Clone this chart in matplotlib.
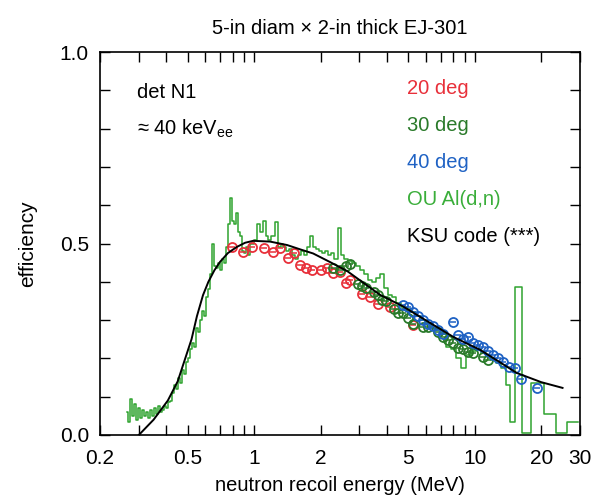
import matplotlib
matplotlib.use("Agg")
import matplotlib.pyplot as plt
import numpy as np

plt.rcParams['font.family'] = ['Liberation Sans', 'DejaVu Sans']

# ---- data ----
# KSU code (black curve)
ksu_E = [0.30, 0.35, 0.406, 0.45, 0.52, 0.55, 0.586, 0.62, 0.66, 0.70, 0.76, 0.834, 0.91,
         0.99, 1.18, 1.41, 1.61, 1.85, 2.2, 2.64, 3.72, 4.72, 6.3, 8.0, 10.6, 13.0, 15.5,
         20.0, 25.0]
ksu_eff = [0.0, 0.04, 0.09, 0.14, 0.25, 0.31, 0.365, 0.40, 0.43, 0.452, 0.475, 0.491, 0.502,
           0.507, 0.505, 0.496, 0.485, 0.474, 0.452, 0.428, 0.366, 0.336, 0.292, 0.256,
           0.222, 0.19, 0.162, 0.138, 0.123]

# OU Al(d,n) histogram (bin centres, efficiency)
ou_E = [0.265, 0.271, 0.276, 0.282, 0.288, 0.294, 0.300, 0.307, 0.313, 0.320, 0.327, 0.334,
        0.341, 0.348, 0.355, 0.363, 0.370, 0.378, 0.386, 0.394, 0.402, 0.411, 0.420, 0.428,
        0.438, 0.447, 0.456, 0.466, 0.476, 0.486, 0.496, 0.506, 0.517, 0.528, 0.539, 0.550,
        0.562, 0.574, 0.586, 0.598, 0.611, 0.624, 0.637, 0.650, 0.664, 0.678, 0.692, 0.707,
        0.722, 0.737, 0.753, 0.769, 0.785, 0.801, 0.819, 0.836, 0.853, 0.871, 0.890, 0.909,
        0.928, 0.947,
        0.977, 1.009, 1.041, 1.074, 1.108, 1.143, 1.179, 1.217, 1.256, 1.296, 1.337, 1.379,
        1.423, 1.468, 1.515, 1.563, 1.613, 1.664, 1.717, 1.772, 1.828, 1.887, 1.946, 2.008,
        2.072, 2.138, 2.206, 2.276, 2.349,
        2.448, 2.526, 2.607, 2.718, 2.834, 2.955, 3.081, 3.212, 3.349, 3.492, 3.641, 3.796,
        3.959, 4.128, 4.303, 4.487,
        4.727, 4.980, 5.248, 5.528, 5.825, 6.138, 6.465, 6.813, 7.176, 7.562, 7.967, 8.394,
        8.844, 9.319, 9.817, 10.34, 10.90, 11.48, 12.10, 12.74, 13.43,
        14.14, 14.75, 15.70, 16.89, 19.14, 21.92, 24.86, 27.58, 29.38]
ou_eff = [0.06, 0.035, 0.095, 0.05, 0.08, 0.04, 0.07, 0.045, 0.065, 0.05, 0.06, 0.045,
          0.065, 0.05, 0.07, 0.055, 0.075, 0.06, 0.065, 0.075, 0.07, 0.085, 0.09, 0.11,
          0.13, 0.12, 0.15, 0.135, 0.17, 0.16, 0.19, 0.20, 0.225, 0.24, 0.23, 0.28,
          0.27, 0.30, 0.325, 0.31, 0.36, 0.38, 0.42, 0.50, 0.44, 0.435, 0.45, 0.43,
          0.46, 0.45, 0.49, 0.55, 0.62, 0.56, 0.55, 0.58, 0.53, 0.52, 0.48, 0.475,
          0.49, 0.47,
          0.50, 0.51, 0.55, 0.53, 0.56, 0.52, 0.51, 0.52, 0.556, 0.49, 0.50, 0.49,
          0.48, 0.485, 0.47, 0.46, 0.47, 0.48, 0.47, 0.49, 0.52, 0.49, 0.485, 0.48,
          0.475, 0.48, 0.47, 0.475, 0.46,
          0.54, 0.47, 0.46, 0.455, 0.45, 0.44, 0.43, 0.42, 0.405, 0.40, 0.41, 0.42,
          0.385, 0.365, 0.36, 0.345,
          0.335, 0.33, 0.32, 0.31, 0.30, 0.29, 0.28, 0.275, 0.265, 0.23, 0.225, 0.20,
          0.175, 0.21, 0.22, 0.225, 0.215, 0.205, 0.195, 0.188, 0.175,
          0.13, 0.035, 0.386, 0.005, 0.135, 0.055, 0.005, 0.035, 0.035]

# 20 deg (red)
d20_E = [0.793, 0.890, 0.977, 1.108, 1.217, 1.31, 1.423, 1.515, 1.613, 1.717, 1.828,
         2.008, 2.138, 2.276, 2.448, 2.607, 2.718, 3.081, 3.349, 3.641, 4.128, 5.248]
d20_eff = [0.49, 0.478, 0.49, 0.488, 0.478, 0.488, 0.462, 0.475, 0.444, 0.436, 0.43,
           0.432, 0.436, 0.423, 0.426, 0.397, 0.405, 0.368, 0.36, 0.342, 0.334, 0.287]

# 30 deg (dark green)
d30_E = [2.276, 2.448, 2.607, 2.718, 2.955, 3.081, 3.212, 3.492, 3.641, 3.796, 3.959,
         4.303, 4.487, 4.727, 4.980, 5.248, 5.825, 6.138, 6.813, 7.176, 7.562, 7.967,
         8.394, 8.844, 9.319, 9.817, 10.90, 11.48]
d30_eff = [0.436, 0.43, 0.44, 0.447, 0.395, 0.39, 0.383, 0.373, 0.365, 0.352, 0.35,
           0.33, 0.318, 0.318, 0.305, 0.29, 0.282, 0.282, 0.27, 0.256, 0.248, 0.24,
           0.227, 0.225, 0.217, 0.215, 0.204, 0.196]

# 40 deg (blue)
d40_E = [4.727, 4.980, 5.248, 5.528, 5.825, 6.138, 6.465, 6.813, 7.176, 7.967, 8.394,
         8.844, 9.319, 9.817, 10.34, 10.90, 11.48, 12.10, 12.74, 13.43, 14.29, 15.21,
         16.19, 19.14]
d40_eff = [0.34, 0.335, 0.32, 0.31, 0.30, 0.29, 0.285, 0.275, 0.265, 0.295, 0.26,
           0.25, 0.255, 0.24, 0.235, 0.23, 0.22, 0.21, 0.20, 0.19, 0.178, 0.175,
           0.145, 0.123]

xtick_vals = [0.2, 0.5, 1, 2, 5, 10, 20, 30]
xtick_labels = ['0.2', '0.5', '1', '2', '5', '10', '20', '30']
ytick_vals = [0.0, 0.5, 1.0]
ytick_labels = ['0.0', '0.5', '1.0']

legend_texts = ['20 deg', '30 deg', '40 deg', 'OU Al(d,n)', 'KSU code (***)']

# ---- styles ----
c_red = '#e8303a'
c_dgreen = '#2a7a2a'
c_blue = '#1f62c4'
c_green = '#2fa32f'
c_legend_green = '#3aae3a'

fig = plt.figure(figsize=(5.94, 4.99), dpi=100)
ax = fig.add_axes([100/594, 1 - 435/499, 480/594, 383/499])

ax.step(ou_E, ou_eff, where='mid', color=c_green, lw=1.1, zorder=2)

def pts(E, eff, col):
    ax.plot(E, eff, 'o', ms=6.5, mfc='none', mec=col, mew=1.3, zorder=3)
    ax.plot(E, eff, '_', ms=5, mec=col, mew=1.1, zorder=3)

pts(d20_E, d20_eff, c_red)
pts(d30_E, d30_eff, c_dgreen)
pts(d40_E, d40_eff, c_blue)

ax.plot(ksu_E, ksu_eff, color='black', lw=1.4, zorder=4)

ax.set_xscale('log')
ax.set_xlim(0.2, 30)
ax.set_ylim(0, 1.0)

minor_x = [0.3, 0.4, 0.6, 0.7, 0.8, 0.9, 3, 4, 6, 7, 8, 9]
ax.set_xticks(xtick_vals)
ax.set_xticklabels(xtick_labels)
ax.set_xticks(minor_x, minor=True)
ax.xaxis.set_minor_formatter(matplotlib.ticker.NullFormatter())
ax.set_yticks(ytick_vals)
ax.set_yticklabels(ytick_labels)
ax.set_yticks(np.arange(0.1, 1.0, 0.1), minor=True)

for which in ('major', 'minor'):
    ax.tick_params(axis='both', which=which, direction='in', top=True, right=True,
                   length=7, width=1.0, labelsize=15)
ax.tick_params(axis='x', which='major', pad=10)
ax.tick_params(axis='y', which='major', pad=8)
for s in ax.spines.values():
    s.set_linewidth(1.2)

ax.set_xlabel('neutron recoil energy (MeV)', fontsize=14.5, labelpad=6)
ax.set_ylabel('efficiency', fontsize=15, labelpad=16)
ax.set_title('5-in diam \u00d7 2-in thick EJ-301', fontsize=14.5, pad=13)

ax.text(0.078, 0.895, 'det N1', fontsize=14.5, va='center', ha='left', transform=ax.transAxes)
ax.text(0.078, 0.80, '\u2248 40 keV$_{\\mathregular{ee}}$', fontsize=14.5, va='center',
        ha='left', transform=ax.transAxes)

leg_cols = [c_red, c_dgreen, c_blue, c_legend_green, 'black']
for i, (t, c) in enumerate(zip(legend_texts, leg_cols)):
    ax.text(0.64, 0.905 - i * 0.097, t, color=c, fontsize=14.5, va='center', ha='left',
            transform=ax.transAxes)

fig.savefig('out.png', dpi=100)
